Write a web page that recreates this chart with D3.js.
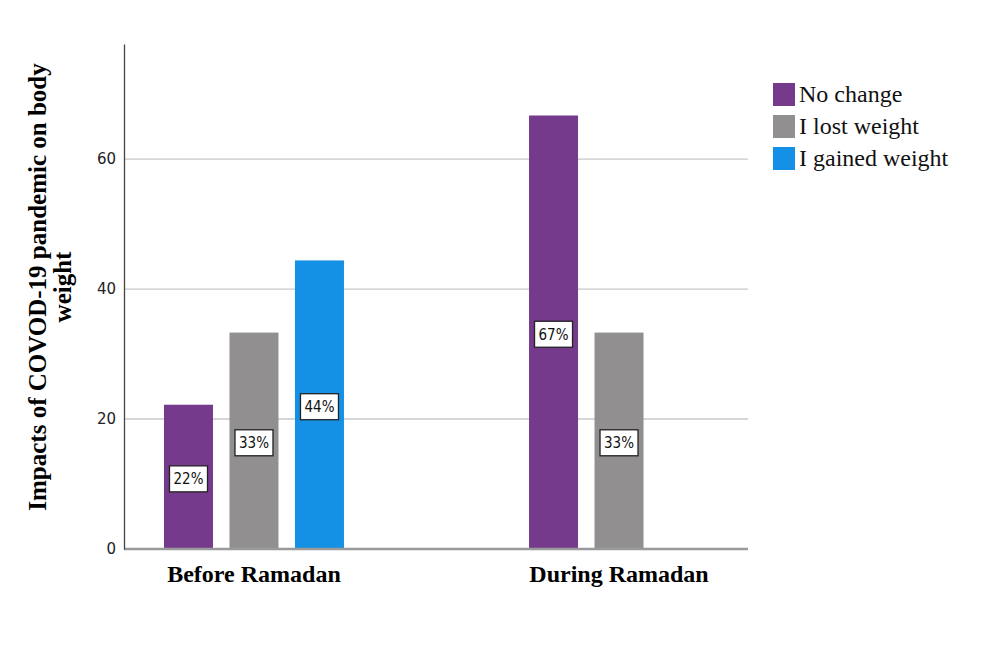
<!DOCTYPE html>
<html>
<head>
<meta charset="utf-8">
<script src="https://cdn.jsdelivr.net/npm/d3@7"></script>
<style>
  body { margin: 0; background: #fff; }
</style>
</head>
<body>
<svg id="chart" width="1000" height="662"></svg>
<script>
// data
var periods = ["Before Ramadan", "During Ramadan"];
var groups = ["No change", "I lost weight", "I gained weight"];
var noChange = [22.2, 66.7];
var lostWeight = [33.3, 33.3];
var gainedWeight = [44.4, null];
var yTicks = [0, 20, 40, 60];
var colors = ["#763a8c", "#918f8f", "#1490e4"];

var svg = d3.select("#chart");
var mLeft = 124, mRight = 748, mTop = 44, mBottom = 549;

var x0 = d3.scaleBand().domain(periods).range([164, 709]).paddingInner(0.507);
var x1 = d3.scaleBand().domain(groups).range([0, x0.bandwidth()]).paddingInner(0.252);
var y = d3.scaleLinear().domain([0, 77.7]).range([mBottom, mTop]);

// grid lines
svg.append("g").selectAll("line")
    .data(yTicks.filter(function (d) { return d > 0; }))
    .enter().append("line")
    .attr("x1", mLeft).attr("x2", mRight)
    .attr("y1", function (d) { return y(d); })
    .attr("y2", function (d) { return y(d); })
    .attr("stroke", "#c8c8c8").attr("stroke-width", 1.3);

var series = [noChange, lostWeight, gainedWeight];
var rows = [];
periods.forEach(function (p, i) {
    groups.forEach(function (g, j) {
        if (series[j][i] != null) {
            rows.push({period: p, group: g, value: series[j][i], color: colors[j]});
        }
    });
});

svg.append("g").selectAll("rect")
    .data(rows)
    .enter().append("rect")
    .attr("x", function (d) { return x0(d.period) + x1(d.group); })
    .attr("y", function (d) { return y(d.value); })
    .attr("width", x1.bandwidth())
    .attr("height", function (d) { return mBottom - y(d.value); })
    .attr("fill", function (d) { return d.color; });

// value labels in boxes at bar middle
var lab = svg.append("g").selectAll("g")
    .data(rows)
    .enter().append("g")
    .attr("transform", function (d) {
        var cx = x0(d.period) + x1(d.group) + x1.bandwidth() / 2;
        var cy = (y(d.value) + mBottom) / 2 + 2;
        return "translate(" + cx + "," + cy + ")";
    });
lab.append("rect")
    .attr("x", -19).attr("y", -13).attr("width", 38).attr("height", 26)
    .attr("fill", "#fff").attr("stroke", "#222").attr("stroke-width", 1.3);
lab.append("text")
    .attr("text-anchor", "middle").attr("dy", "0.36em")
    .attr("font-family", "DejaVu Sans").attr("font-stretch", "condensed")
    .attr("font-size", 15).attr("fill", "#111")
    .text(function (d) { return Math.round(d.value) + "%"; });

// x axis line
svg.append("line")
    .attr("x1", mLeft).attr("x2", mRight).attr("y1", mBottom).attr("y2", mBottom)
    .attr("stroke", "#9a9a9a").attr("stroke-width", 2.5);

// y axis
var yAxis = d3.axisLeft(y).tickValues(yTicks).tickSize(0).tickPadding(8);
var ya = svg.append("g").attr("transform", "translate(" + mLeft + ",0)").call(yAxis);
ya.select(".domain").attr("stroke", "#444").attr("stroke-width", 1.3);
ya.selectAll("text").attr("font-family", "DejaVu Sans").attr("font-size", 15).attr("fill", "#222");

// category labels
svg.append("g").selectAll("text")
    .data(periods)
    .enter().append("text")
    .attr("x", function (d) { return x0(d) + x0.bandwidth() / 2; })
    .attr("y", 582)
    .attr("text-anchor", "middle")
    .attr("font-family", "Liberation Serif").attr("font-weight", "bold").attr("font-size", 24)
    .text(function (d) { return d; });

// y title
var yt = svg.append("text")
    .attr("transform", "translate(46,287) rotate(-90)")
    .attr("text-anchor", "middle")
    .attr("font-family", "Liberation Serif").attr("font-weight", "bold").attr("font-size", 25);
yt.append("tspan").attr("x", 0).attr("y", 0).text("Impacts of COVOD-19 pandemic on body");
yt.append("tspan").attr("x", 0).attr("y", 25).text("weight");

// legend
var leg = svg.append("g").selectAll("g")
    .data(groups)
    .enter().append("g")
    .attr("transform", function (d, i) { return "translate(773," + (83 + i * 32) + ")"; });
leg.append("rect").attr("width", 22).attr("height", 23)
    .attr("fill", function (d, i) { return colors[i]; });
leg.append("text").attr("x", 26).attr("y", 19)
    .attr("font-family", "Liberation Serif").attr("font-size", 24).attr("fill", "#111")
    .text(function (d) { return d; });
</script>
</body>
</html>
